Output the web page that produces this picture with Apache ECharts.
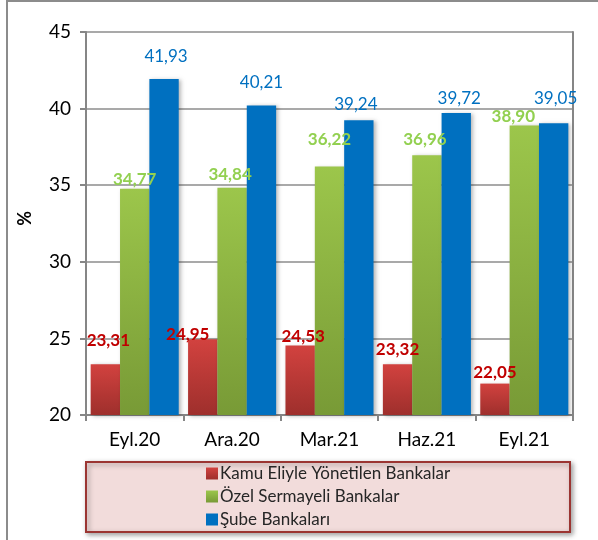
<!DOCTYPE html>
<html>
<head>
<meta charset="utf-8">
<script src="https://cdn.jsdelivr.net/npm/echarts@6/dist/echarts.min.js"></script>
<style>
  html, body { margin: 0; padding: 0; background: #fff; }
  #chart { width: 598px; height: 540px; }
</style>
</head>
<body>
<div id="chart"></div>
<script>
// Periods and ratios (%) by bank group
const categories = ['Eyl.20', 'Ara.20', 'Mar.21', 'Haz.21', 'Eyl.21'];
const seriesNames = ['Kamu Eliyle Yönetilen Bankalar', 'Özel Sermayeli Bankalar', 'Şube Bankaları'];
const kamu = [23.31, 24.95, 24.53, 23.32, 22.05];
const ozel = [34.77, 34.84, 36.22, 36.96, 38.90];
const sube = [41.93, 40.21, 39.24, 39.72, 39.05];
const yTicks = { min: 20, max: 45, step: 5 };

// Hand-placed value label nudges (px): lift above bar top, horizontal shift
const kamuLift = [15, -4, 1, 6, 3];
const kamuShift = [3, -15, 3, 0, 0];
const ozelLift = [1, 5, 18, 7, 0];
const ozelShift = [0, -2, 0, -2, -11];
const subeLift = [14, 14, 7, 6, 16];
const subeShift = [2, 0, -3, 3, 2];

const font = 'Lato, "Open Sans", "Noto Sans", sans-serif';
const fmt = p => p.value.toFixed(2).replace('.', ',');

function withLabels(values, lift, shift) {
  return values.map((v, i) => ({
    value: v,
    label: { distance: lift[i], offset: [shift[i], 0] }
  }));
}

function grad(top, bottom) {
  return new echarts.graphic.LinearGradient(0, 0, 0, 1, [
    { offset: 0, color: top },
    { offset: 1, color: bottom }
  ]);
}

const barShadow = { shadowColor: 'rgba(0,0,0,0.28)', shadowBlur: 4, shadowOffsetX: 2, shadowOffsetY: 1 };

const chart = echarts.init(document.getElementById('chart'), null, { renderer: 'canvas' });
chart.setOption({
  animation: false,
  backgroundColor: '#ffffff',
  textStyle: { fontFamily: font },
  grid: { left: 86, right: 25, top: 32, bottom: 125, containLabel: false },
  graphic: [
    { type: 'line', shape: { x1: 7, y1: 0, x2: 7, y2: 540 }, style: { stroke: '#8c8c8c', lineWidth: 2 }, z: 0 },
    { type: 'line', shape: { x1: 7, y1: 1, x2: 598, y2: 1 }, style: { stroke: '#8c8c8c', lineWidth: 2 }, z: 0 },
    {
      type: 'rect', left: 85, top: 461, z: 0,
      shape: { width: 484, height: 70 },
      style: {
        fill: '#f2dcdb', stroke: '#9b3532', lineWidth: 2,
        shadowColor: 'rgba(0,0,0,0.35)', shadowBlur: 5, shadowOffsetX: 2, shadowOffsetY: 2
      }
    },
    {
      type: 'text', left: 16, top: 211, rotation: Math.PI / 2, z: 5,
      style: { text: '%', font: 'bold 18px ' + font, fill: '#000000' }
    }
  ],
  legend: {
    orient: 'vertical',
    left: 206,
    top: 462,
    itemWidth: 12,
    itemHeight: 12,
    itemGap: 0,
    icon: 'rect',
    padding: 0,
    data: seriesNames,
    textStyle: { fontSize: 17, lineHeight: 23, color: '#262626', fontFamily: font, padding: [0, 0, 0, -3] }
  },
  xAxis: {
    type: 'category',
    data: categories,
    axisLine: { lineStyle: { color: '#868686', width: 2 } },
    axisTick: { show: true, length: 6, lineStyle: { color: '#868686', width: 2 } },
    axisLabel: { fontSize: 19, color: '#000000', margin: 15, fontFamily: font }
  },
  yAxis: [
    {
      type: 'value',
      min: yTicks.min, max: yTicks.max, interval: yTicks.step,
      axisLine: { show: true, lineStyle: { color: '#868686', width: 2 } },
      axisTick: { show: true, length: 6, lineStyle: { color: '#868686', width: 2 } },
      axisLabel: { fontSize: 19, color: '#000000', margin: 15, fontFamily: font },
      splitLine: { show: true, lineStyle: { color: '#8c8c8c', width: 1.5 } }
    },
    {
      type: 'value', position: 'right',
      min: yTicks.min, max: yTicks.max, interval: yTicks.step,
      axisLine: { show: true, lineStyle: { color: '#868686', width: 2 } },
      axisTick: { show: false }, axisLabel: { show: false }, splitLine: { show: false }
    }
  ],
  series: [
    {
      name: seriesNames[0], type: 'bar', barGap: '0%', barCategoryGap: '9.6%',
      data: withLabels(kamu, kamuLift, kamuShift),
      itemStyle: Object.assign({ color: grad('#d2423f', '#9e2f2c') }, barShadow),
      label: { show: true, position: 'top', formatter: fmt, fontSize: 17, fontWeight: 'bold', color: '#c00000', fontFamily: font }
    },
    {
      name: seriesNames[1], type: 'bar', barGap: '0%', barCategoryGap: '9.6%',
      data: withLabels(ozel, ozelLift, ozelShift),
      itemStyle: Object.assign({ color: grad('#9cc64b', '#789a36') }, barShadow),
      label: { show: true, position: 'top', formatter: fmt, fontSize: 17, fontWeight: 'bold', color: '#92d050', fontFamily: font }
    },
    {
      name: seriesNames[2], type: 'bar', barGap: '0%', barCategoryGap: '9.6%',
      data: withLabels(sube, subeLift, subeShift),
      itemStyle: Object.assign({ color: '#0070c0' }, barShadow),
      label: { show: true, position: 'top', formatter: fmt, fontSize: 17, color: '#0070c0', fontFamily: font }
    }
  ],
  color: ['#c0504d', '#9bbb59', '#0070c0']
});
</script>
</body>
</html>
